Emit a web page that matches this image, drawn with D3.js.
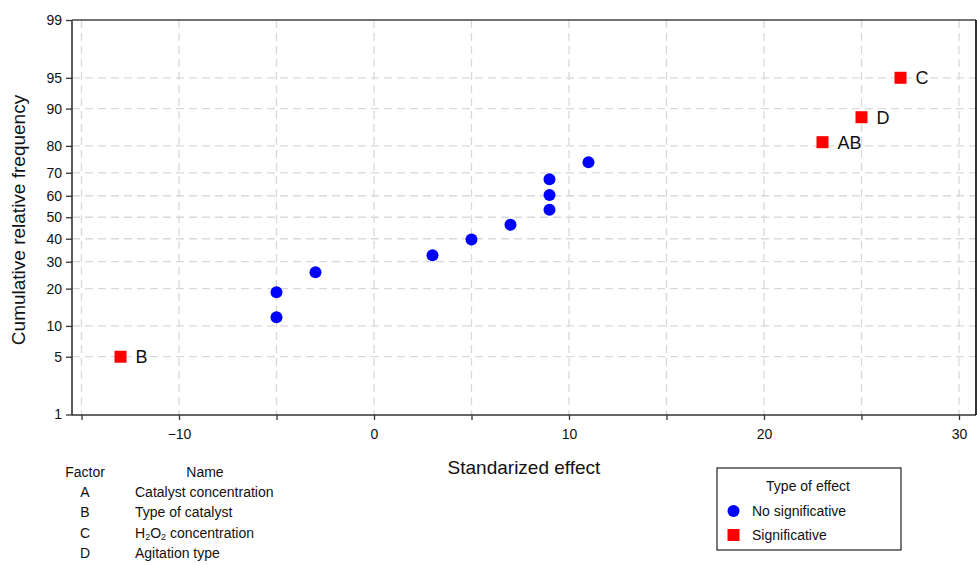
<!DOCTYPE html>
<html><head><meta charset="utf-8">
<script src="https://cdn.jsdelivr.net/npm/d3@7"></script>
<style>body{margin:0;background:#fff}svg{display:block;font-family:"Liberation Sans",Arial,sans-serif}</style>
</head><body><svg id="c" width="977" height="565"></svg>
<script>
// Data
const effects = [-13, -5, -5, -3, 3, 5, 7, 9, 9, 9, 11, 23, 25, 27];
const cumFreq = [5, 11.9, 18.8, 25.8, 32.7, 39.6, 46.5, 53.5, 60.4, 67.3, 74.2, 81.2, 88.1, 95];
const labels = ["B", "", "", "", "", "", "", "", "", "", "", "AB", "D", "C"];
const significant = [true, false, false, false, false, false, false, false, false, false, false, true, true, true];
const yTicks = [1, 5, 10, 20, 30, 40, 50, 60, 70, 80, 90, 95, 99];
const xTickLabels = [-10, 0, 10, 20, 30];
const xGridTicks = [-15, -10, -5, 0, 5, 10, 15, 20, 25, 30];
const factorCodes = ["A", "B", "C", "D"];
const factorNames = ["Catalyst concentration", "Type of catalyst", "H2O2 concentration", "Agitation type"];
const legendItems = ["No significative", "Significative"];

// inverse normal CDF (Acklam)
function probit(p){
  const a=[-3.969683028665376e+01,2.209460984245205e+02,-2.759285104469687e+02,1.383577518672690e+02,-3.066479806614716e+01,2.506628277459239e+00];
  const b=[-5.447609879822406e+01,1.615858368580409e+02,-1.556989798598866e+02,6.680131188771972e+01,-1.328068155288572e+01];
  const c=[-7.784894002430293e-03,-3.223964580411365e-01,-2.400758277161838e+00,-2.549671850166024e+00,4.374664141464968e+00,2.938163982698783e+00];
  const d=[7.784695709041462e-03,3.224671290700398e-01,2.445134137142996e+00,3.754408661907416e+00];
  const pl=0.02425, ph=1-pl; let q,r;
  if(p<pl){q=Math.sqrt(-2*Math.log(p));return (((((c[0]*q+c[1])*q+c[2])*q+c[3])*q+c[4])*q+c[5])/((((d[0]*q+d[1])*q+d[2])*q+d[3])*q+1);}
  if(p<=ph){q=p-0.5;r=q*q;return (((((a[0]*r+a[1])*r+a[2])*r+a[3])*r+a[4])*r+a[5])*q/(((((b[0]*r+b[1])*r+b[2])*r+b[3])*r+b[4])*r+1);}
  q=Math.sqrt(-2*Math.log(1-p));return -(((((c[0]*q+c[1])*q+c[2])*q+c[3])*q+c[4])*q+c[5])/((((d[0]*q+d[1])*q+d[2])*q+d[3])*q+1);
}

const svg = d3.select("#c");
const L=72, R=976, T=20, B=415;
const x = d3.scaleLinear().domain([(L-374)/19.5, (R-374)/19.5]).range([L, R]);
const zLin = d3.scaleLinear().domain([probit(0.01), probit(0.99)]).range([414.5, T]);
const y = v => zLin(probit(v/100));

// grid
const grid = svg.append("g").attr("stroke","#d9d9d9").attr("stroke-width",1.3).attr("stroke-dasharray","8,5");
grid.selectAll("line.h").data(yTicks.filter(v=>v!==1&&v!==99)).join("line")
  .attr("x1",L).attr("x2",R).attr("y1",d=>y(d)).attr("y2",d=>y(d));
grid.selectAll("line.v").data(xGridTicks).join("line")
  .attr("x1",d=>x(d)).attr("x2",d=>x(d)).attr("y1",T).attr("y2",B);

// axes
const yAxis = d3.axisLeft(zLin).tickValues(yTicks.map(v=>probit(v/100))).tickFormat((d,i)=>yTicks[i]).tickSize(6).tickPadding(4);
const gy = svg.append("g").attr("transform",`translate(${L},0)`).call(yAxis);
const xAxis = d3.axisBottom(x).tickValues(xGridTicks).tickFormat(d=>xTickLabels.includes(d)?d3.format("")(d):"").tickSize(5).tickPadding(9);
const gx = svg.append("g").attr("transform",`translate(0,${B})`).call(xAxis);
[gy,gx].forEach(g=>{
  g.select(".domain").remove();
  g.selectAll(".tick line").attr("stroke","#333").attr("stroke-width",1.3);
  g.selectAll(".tick text").attr("fill","#111").style("font-size","14px").style("font-family","Liberation Sans, Arial, sans-serif");
});
// frame
svg.append("line").attr("x1",L).attr("x2",L).attr("y1",T).attr("y2",B).attr("stroke","#333").attr("stroke-width",1.6);
svg.append("line").attr("x1",L).attr("x2",R).attr("y1",B).attr("y2",B).attr("stroke","#333").attr("stroke-width",1.6);
svg.append("line").attr("x1",L).attr("x2",R).attr("y1",T).attr("y2",T).attr("stroke","#444").attr("stroke-width",1.6);
svg.append("line").attr("x1",R).attr("x2",R).attr("y1",T).attr("y2",B).attr("stroke","#000").attr("stroke-width",1.6);

// titles
svg.append("text").attr("x",(L+R)/2).attr("y",474).attr("text-anchor","middle").style("font-size","19px").attr("fill","#111").text("Standarized effect");
svg.append("text").attr("transform","translate(25,220) rotate(-90)").attr("text-anchor","middle").style("font-size","19px").attr("fill","#111").text("Cumulative relative frequency");

// points
const pts = effects.map((e,i)=>({e, f:cumFreq[i], lab:labels[i], sig:significant[i]}));
svg.append("g").selectAll("circle").data(pts.filter(p=>!p.sig)).join("circle")
  .attr("cx",d=>x(d.e)).attr("cy",d=>y(d.f)).attr("r",6).attr("fill","#0000ff");
svg.append("g").selectAll("rect").data(pts.filter(p=>p.sig)).join("rect")
  .attr("x",d=>x(d.e)-6).attr("y",d=>y(d.f)-6).attr("width",12).attr("height",12).attr("fill","#ff0000");
svg.append("g").selectAll("text").data(pts.filter(p=>p.lab)).join("text")
  .attr("x",d=>x(d.e)+15).attr("y",d=>y(d.f)+6.5).style("font-size","18px").attr("fill","#111").text(d=>d.lab);

// factor table
const ft = svg.append("g").style("font-size","14px").attr("fill","#111");
ft.append("text").attr("x",85).attr("y",476.5).attr("text-anchor","middle").text("Factor");
ft.append("text").attr("x",205).attr("y",476.5).attr("text-anchor","middle").text("Name");
factorCodes.forEach((c,i)=>{
  const yy = 497 + i*20.3;
  ft.append("text").attr("x",85).attr("y",yy).attr("text-anchor","middle").text(c);
  const t = ft.append("text").attr("x",135).attr("y",yy);
  const name = factorNames[i];
  if(name.startsWith("H2O2")){
    t.append("tspan").text("H");
    t.append("tspan").attr("dy",2).style("font-size","9px").text("2");
    t.append("tspan").attr("dy",-2).text("O");
    t.append("tspan").attr("dy",2).style("font-size","9px").text("2");
    t.append("tspan").attr("dy",-2).text(name.slice(4));
  } else t.text(name);
});

// legend
const lg = svg.append("g");
lg.append("rect").attr("x",717).attr("y",468).attr("width",184).attr("height",82).attr("fill","#fff").attr("stroke","#222").attr("stroke-width",1.2);
lg.append("text").attr("x",808).attr("y",491).attr("text-anchor","middle").style("font-size","14px").attr("fill","#111").text("Type of effect");
lg.append("circle").attr("cx",733.5).attr("cy",511).attr("r",6).attr("fill","#0000ff");
lg.append("rect").attr("x",727.5).attr("y",529).attr("width",12).attr("height",12).attr("fill","#ff0000");
legendItems.forEach((t,i)=>lg.append("text").attr("x",752).attr("y",516+i*24).style("font-size","14px").attr("fill","#111").text(t));
</script></body></html>
